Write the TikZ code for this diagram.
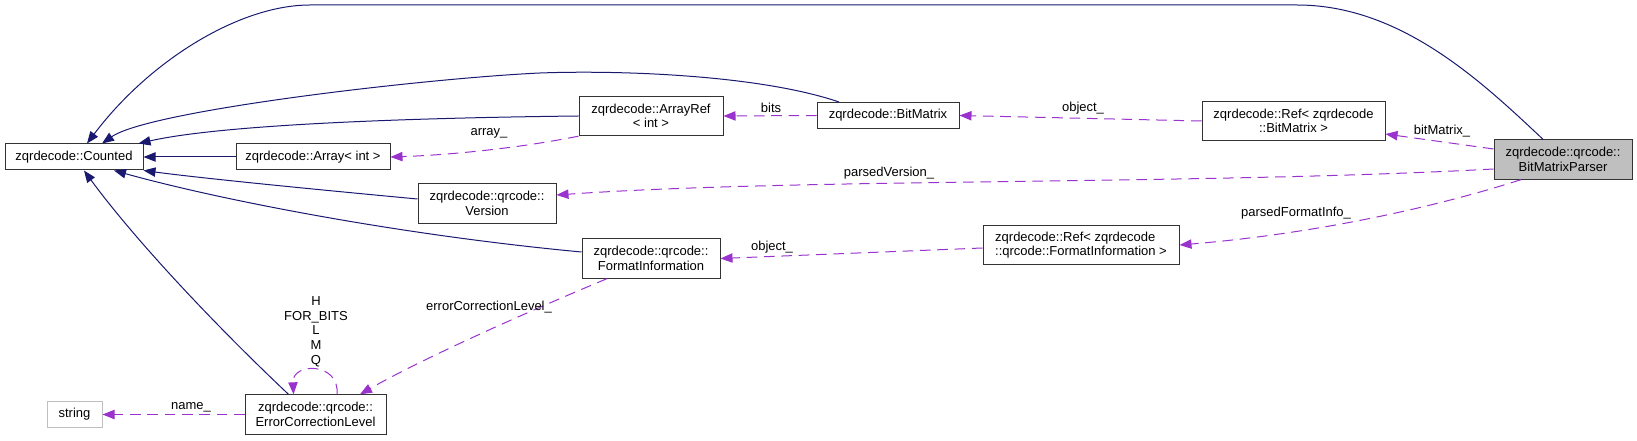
\documentclass[tikz,border=0pt]{standalone}
\usepackage{xcolor}
\usepackage{fontspec}
\setmainfont{Liberation Sans}
\usepackage{tikz}
\usetikzlibrary{arrows.meta}
\usetikzlibrary{calc,positioning}

\definecolor{navyline}{HTML}{191970}
\definecolor{orchidline}{HTML}{9A32CD}
\definecolor{boxgrey}{HTML}{BFBFBF}

\begin{document}
\begin{tikzpicture}[x=0.75pt,y=-0.75pt,
    font=\fontsize{9.75pt}{11pt}\selectfont,
    cls/.style={draw=black!80, line width=0.75pt, align=center, inner sep=2pt,
        minimum width=#1, minimum height=29.5pt},
    cls1/.style={cls=#1, minimum height=19.5pt},
    lbl/.style={inner sep=1pt},
    inh/.style={draw=navyline, line width=0.75pt, -{Triangle[length=9pt,width=7pt]}},
    mem/.style={draw=orchidline, line width=0.75pt, dash pattern=on 8pt off 5pt,
        -{Triangle[length=9pt,width=7pt]}}]

    \useasboundingbox (0,0) rectangle (1637,441);

    % Klassen
    \node[cls=103.5pt, fill=boxgrey] (parser) at (1563,159.5) {zqrdecode::qrcode::\\BitMatrixParser};
    \node[cls1=103.5pt] (counted) at (74,157) {zqrdecode::Counted};
    \node[cls1=115.5pt] (arrint) at (313,157) {zqrdecode::Array< int >};
    \node[cls=108pt] (arrref) at (651,116) {zqrdecode::ArrayRef\\< int >};
    \node[cls1=106.5pt] (bitmatrix) at (888,115.5) {zqrdecode::BitMatrix};
    \node[cls=137.25pt] (refbm) at (1293.5,121) {zqrdecode::Ref< zqrdecode\\::BitMatrix >};
    \node[cls=103.5pt] (version) at (487,203.5) {zqrdecode::qrcode::\\Version};
    \node[cls=103.5pt] (fmtinfo) at (651,258.5) {zqrdecode::qrcode::\\FormatInformation};
    \node[cls=147pt, align=left] (reffi) at (1081,245) {zqrdecode::Ref< zqrdecode\\::qrcode::FormatInformation >};
    \node[cls=105.75pt] (ecl) at (315.5,414.5) {zqrdecode::qrcode::\\ErrorCorrectionLevel};
    \node[cls1=41.25pt, draw=boxgrey] (string) at (74.5,414.5) {string};

    % Overerving naar Counted
    \draw[inh] ($(parser.north)+(-20,0)$) .. controls (1480,80) and (1400,5) .. (1297,5)
        -- (310,5) .. controls (240,5) and (150,60) .. ($(counted.north)+(13,0)$);
    \draw[inh] ($(bitmatrix.north)+(-49,0)$) .. controls (760,75) and (620,70) .. (540,73)
        .. controls (430,78) and (150,110) .. ($(counted.north)+(28,0)$);
    \draw[inh] (arrref.west) .. controls (400,118) and (220,125) .. ($(counted.north east)+(-5,0)$);
    \draw[inh] (arrint.west) -- (counted.east);
    \draw[inh] ($(version.west)+(0,-4.5)$) .. controls (300,188) and (200,178) .. (counted.south east);
    \draw[inh] ($(fmtinfo.west)+(0,-6.5)$) .. controls (400,235) and (220,200) .. ($(counted.south)+(40,0)$);
    \draw[inh] ($(ecl.north)+(-27,0)$) .. controls (215,325) and (135,240) .. ($(counted.south)+(10,0)$);

    % Leden
    \draw[mem] (bitmatrix.west) -- (arrref.east);
    \node[lbl] (lbits) at (771,108) {bits};
    \draw[mem] (refbm.west) -- (bitmatrix.east);
    \node[lbl] (lobjbm) at (1083,108) {object\_};
    \draw[mem] ($(parser.west)+(0,-10.5)$) -- ($(refbm.east)+(0,13)$);
    \node[lbl] (lbitmatrix) at (1442,131) {bitMatrix\_};
    \draw[mem] ($(parser.west)+(0,9.5)$) .. controls (1200,185) and (800,178) .. ($(version.east)+(0,-8.5)$);
    \node[lbl] (lversion) at (889,173) {parsedVersion\_};
    \draw[mem] ($(parser.south)+(-42,0)$) .. controls (1420,212) and (1300,235) .. (reffi.east);
    \node[lbl] (lformat) at (1296,213) {parsedFormatInfo\_};
    \draw[mem] ($(reffi.west)+(0,3)$) -- (fmtinfo.east);
    \node[lbl] (lobjfi) at (772,247) {object\_};
    \draw[mem] (arrref.south west) .. controls (520,148) and (450,155) .. (arrint.east);
    \node[lbl] (larray) at (489,133) {array\_};
    \draw[mem] ($(fmtinfo.south)+(-44,0)$) .. controls (520,315) and (420,360) .. ($(ecl.north)+(44.5,0)$);
    \node[lbl] (lecl) at (489,307) {errorCorrectionLevel\_};
    \draw[mem] (ecl.west) -- (string.east);
    \node[lbl] (lname) at (191,407) {name\_};

    % Lus op ErrorCorrectionLevel
    \draw[mem] ($(ecl.north)+(21.5,0)$) .. controls (340,362) and (292,362) .. ($(ecl.north)+(-22,0)$);
    \node[lbl, align=center] (lloop) at (316,331.5) {H\\FOR\_BITS\\L\\M\\Q};

\end{tikzpicture}
\end{document}
